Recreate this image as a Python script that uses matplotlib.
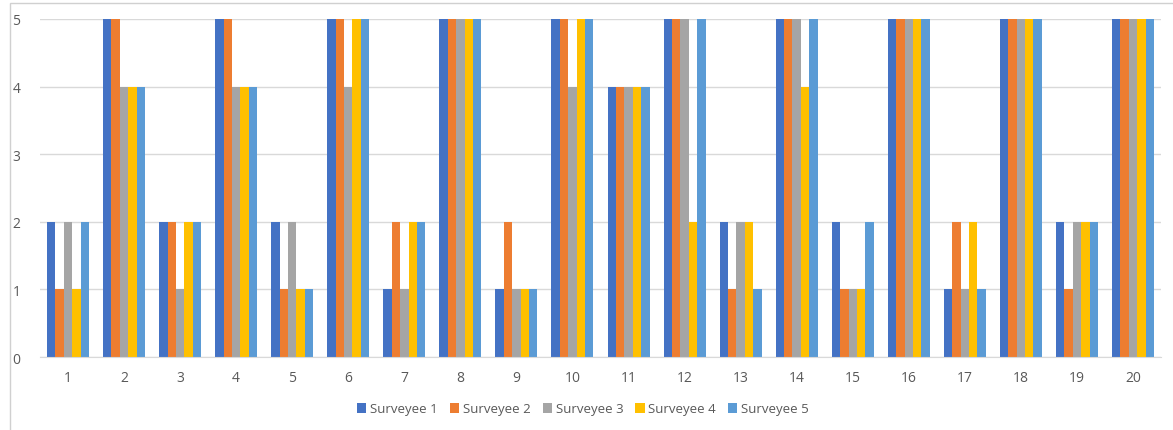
import matplotlib
matplotlib.use("Agg")
import matplotlib.pyplot as plt
import numpy as np
from matplotlib.patches import Rectangle

questions = [str(i) for i in range(1, 21)]
surveyee1 = [2, 5, 2, 5, 2, 5, 1, 5, 1, 5, 4, 5, 2, 5, 2, 5, 1, 5, 2, 5]
surveyee2 = [1, 5, 2, 5, 1, 5, 2, 5, 2, 5, 4, 5, 1, 5, 1, 5, 2, 5, 1, 5]
surveyee3 = [2, 4, 1, 4, 2, 4, 1, 5, 1, 4, 4, 5, 2, 5, 1, 5, 1, 5, 2, 5]
surveyee4 = [1, 4, 2, 4, 1, 5, 2, 5, 1, 5, 4, 2, 2, 4, 1, 5, 2, 5, 2, 5]
surveyee5 = [2, 4, 2, 4, 1, 5, 2, 5, 1, 5, 4, 5, 1, 5, 2, 5, 1, 5, 2, 5]
series_names = ["Surveyee 1", "Surveyee 2", "Surveyee 3", "Surveyee 4", "Surveyee 5"]
colors = ["#4472C4", "#ED7D31", "#A5A5A5", "#FFC000", "#5B9BD5"]

plt.rcParams['font.family'] = ['Open Sans', 'DejaVu Sans']

W, H = 1173, 431
fig = plt.figure(figsize=(W / 100, H / 100), dpi=100)
ax = fig.add_axes([40 / W, 1 - 358 / H, (1161 - 40) / W, (358 - 20) / H])

series = [surveyee1, surveyee2, surveyee3, surveyee4, surveyee5]
x = np.arange(len(questions))
bw = 0.15
for i, (vals, name, c) in enumerate(zip(series, series_names, colors)):
    ax.bar(x + (i - 2) * bw, vals, width=bw, color=c, label=name, zorder=2)

ax.set_xlim(-0.5, len(questions) - 0.5)
ax.set_ylim(0, 5)
ax.set_yticks(range(0, 6))
ax.set_xticks(x)
ax.set_xticklabels(questions)
ax.yaxis.grid(True, color="#D9D9D9", linewidth=1.0, zorder=0)
ax.set_axisbelow(True)
for s in ["top", "right", "left"]:
    ax.spines[s].set_visible(False)
ax.spines["bottom"].set_color("#D9D9D9")
ax.tick_params(axis="both", length=0, colors="#595959", labelsize=10)
ax.tick_params(axis="x", pad=9)
ax.tick_params(axis="y", pad=14)

leg = fig.legend(loc="center", bbox_to_anchor=(0.497, 1 - 410 / H), ncol=5,
                 frameon=False, fontsize=9.5, handlelength=0.7, handleheight=0.7,
                 handletextpad=0.3, columnspacing=0.9)
for t in leg.get_texts():
    t.set_color("#595959")

# outer chart frame
fig.patches.append(Rectangle((10 / W, -0.1), 1.2, 1 - 4 / H + 0.1,
                             transform=fig.transFigure, fill=False,
                             edgecolor="#D0D0D0", linewidth=1.0))

fig.savefig("out.png", dpi=100)
